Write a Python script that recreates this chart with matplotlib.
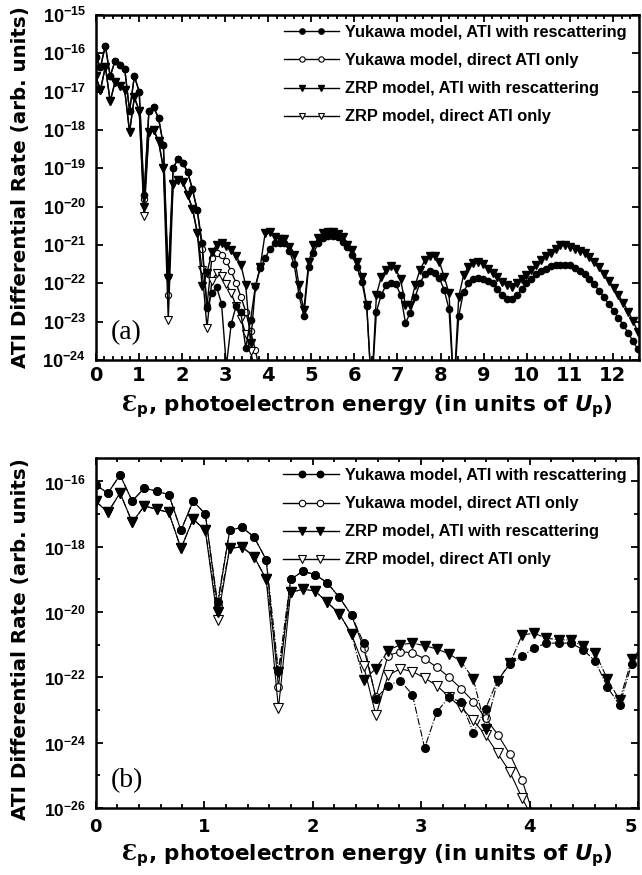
import numpy as np
import matplotlib
matplotlib.use("Agg")
import matplotlib.pyplot as plt
from matplotlib.lines import Line2D
from matplotlib.legend_handler import HandlerLine2D
from matplotlib.transforms import ScaledTranslation
from matplotlib.ticker import MultipleLocator, FixedLocator, FuncFormatter, NullLocator, NullFormatter

# polices : sans gras partout, Ɛ en serif
plt.rcParams["font.family"] = ["Liberation Sans", "DejaVu Sans"]
plt.rcParams["font.weight"] = "bold"
plt.rcParams["mathtext.fontset"] = "custom"
plt.rcParams["mathtext.rm"] = "Liberation Sans:bold"
plt.rcParams["mathtext.bf"] = "Liberation Sans:bold"
plt.rcParams["mathtext.it"] = "DejaVu Sans:bold:italic"
plt.rcParams["mathtext.sf"] = "DejaVu Sans:bold"
plt.rcParams["mathtext.cal"] = "DejaVu Serif"

# energy grid (units of Up), one point per photon
step = 0.1123
energy = np.arange(113) * step

# log10 of the differential rate
yuk_resc = [
    -16.10, -16.36, -15.80, -16.60, -16.20, -16.30, -16.40, -17.50, -16.60, -17.00,
    -19.70, -17.50, -17.40, -17.70, -18.40, -21.80, -19.00, -18.75, -18.85, -19.10,
    -19.55, -20.10, -20.95, -22.65, -22.25, -22.10, -22.53, -24.16, -23.06, -22.60,
    -22.76, -23.69, -22.96, -22.07, -21.60, -21.35, -21.10, -20.95, -20.95, -20.95,
    -21.15, -21.50, -22.30, -22.85, -21.58, -21.20, -20.96, -20.83, -20.77, -20.77,
    -20.80, -20.91, -21.05, -21.26, -21.58, -21.96, -22.60, -24.80, -22.74, -22.30,
    -22.05, -21.99, -22.02, -22.30, -23.03, -22.77, -22.35, -21.99, -21.77, -21.68,
    -21.72, -21.87, -22.17, -22.68, -24.80, -22.85, -22.22, -22.00, -21.88, -21.85,
    -21.88, -21.94, -22.00, -22.16, -22.31, -22.42, -22.40, -22.31, -22.16, -22.00,
    -21.88, -21.76, -21.68, -21.62, -21.55, -21.52, -21.51, -21.51, -21.53, -21.59,
    -21.67, -21.76, -21.89, -22.03, -22.19, -22.37, -22.54, -22.72, -22.90, -23.09,
    -23.29, -23.51, -23.72]

yuk_direct = [
    -16.10, -16.36, -15.80, -16.60, -16.20, -16.30, -16.40, -17.50, -16.60, -17.00,
    -19.80, -17.50, -17.40, -17.70, -18.40, -22.30, -19.00, -18.75, -18.85, -19.10,
    -19.55, -20.10, -21.10, -22.60, -21.33, -21.21, -21.25, -21.43, -21.69, -21.99,
    -22.35, -22.74, -23.25, -23.75, -24.36, -25.15, -26.30]

zrp_resc = [
    -16.60, -16.95, -16.35, -17.25, -16.75, -16.85, -16.95, -18.05, -17.15, -17.50,
    -20.00, -18.05, -18.00, -18.30, -19.00, -21.85, -19.40, -19.30, -19.35, -19.70,
    -20.05, -20.68, -22.08, -21.73, -21.18, -21.00, -20.95, -21.03, -21.13, -21.28,
    -21.52, -22.05, -23.57, -22.10, -21.57, -20.70, -20.65, -20.80, -20.85, -20.85,
    -21.05, -21.25, -22.05, -22.70, -21.45, -21.00, -20.83, -20.70, -20.65, -20.65,
    -20.71, -20.78, -21.00, -21.13, -21.44, -21.83, -22.57, -24.80, -22.30, -21.83,
    -21.65, -21.55, -21.63, -21.90, -22.57, -22.57, -22.05, -21.65, -21.40, -21.29,
    -21.29, -21.44, -21.83, -22.26, -24.80, -22.35, -21.79, -21.57, -21.47, -21.44,
    -21.50, -21.62, -21.73, -21.83, -21.96, -22.05, -22.09, -22.00, -21.90, -21.79,
    -21.66, -21.53, -21.40, -21.29, -21.20, -21.10, -21.01, -21.00, -21.05, -21.10,
    -21.15, -21.20, -21.31, -21.45, -21.58, -21.76, -21.93, -22.11, -22.31, -22.51,
    -22.74, -22.98, -23.26]

zrp_direct = [
    -16.60, -16.95, -16.35, -17.25, -16.75, -16.85, -16.95, -18.05, -17.15, -17.50,
    -20.25, -18.05, -18.00, -18.30, -19.00, -22.95, -19.40, -19.30, -19.35, -19.70,
    -20.05, -20.68, -21.66, -23.16, -21.93, -21.74, -21.82, -22.02, -22.25, -22.60,
    -22.92, -23.32, -23.77, -24.33, -24.90, -25.70, -26.40]

labels = ["Yukawa model, ATI with rescattering",
          "Yukawa model, direct ATI only",
          "ZRP model, ATI with rescattering",
          "ZRP model, direct ATI only"]

xlabel = r"$\mathcal{Ɛ}_\mathsf{p}$, photoelectron energy (in units of $\mathit{U}_\mathsf{p}$)"
ylabel = "ATI Differential Rate (arb. units)"

decade_fmt = FuncFormatter(lambda v, p: r"$\mathbf{10^{%d}}$" % int(round(np.log10(v))))
label_font = {"family": "DejaVu Sans", "weight": "bold"}


def draw_curves(ax, resc_ls, lw, ms):
    ax.plot(energy[:len(yuk_direct)], 10.0 ** np.array(yuk_direct), color="black", ls="-", lw=lw,
            marker="o", ms=ms, mfc="white", mec="black", mew=0.8, label=labels[1], zorder=2)
    ax.plot(energy[:len(zrp_direct)], 10.0 ** np.array(zrp_direct), color="black", ls="-", lw=lw,
            marker="v", ms=ms + 1, mfc="white", mec="black", mew=0.8, label=labels[3], zorder=2)
    ax.plot(energy, 10.0 ** np.array(yuk_resc), color="black", ls=resc_ls, lw=lw,
            marker="o", ms=ms, mfc="black", mec="black", label=labels[0], zorder=3)
    ax.plot(energy, 10.0 ** np.array(zrp_resc), color="black", ls=resc_ls, lw=lw,
            marker="v", ms=ms + 1, mfc="black", mec="black", label=labels[2], zorder=3)
    ax.set_yscale("log")
    # légende dans l'ordre du papier, trait qui dépasse des deux symboles
    h, l = ax.get_legend_handles_labels()
    order = [l.index(s) for s in labels]
    leg = ax.legend([h[k] for k in order], labels, loc="upper right", frameon=False, numpoints=4,
                    handlelength=3.4, handletextpad=0.35, labelspacing=0.8,
                    borderaxespad=0.0, borderpad=0.3, bbox_to_anchor=(0.987, 0.985), markerscale=0.85,
                    handler_map={Line2D: HandlerLine2D(marker_pad=0.0)},
                    prop={"family": "Liberation Sans", "weight": "bold", "size": 11.8})
    for hl in leg.legend_handles:
        hl.set_linestyle("-")
        hl.set_linewidth(1.0)
        hl.set_markevery([1, 2])
    for s in ax.spines.values():
        s.set_linewidth(1.8)
    ax.tick_params(which="both", direction="in", top=True, right=True, width=1.3)
    ax.tick_params(which="major", length=5)
    ax.tick_params(which="minor", length=3)


fig = plt.figure(figsize=(6.42, 8.75), dpi=100)

# panneau (a)
ax_a = fig.add_axes([0.149, 0.5886, 0.846, 0.3943])
draw_curves(ax_a, "-", 1.0, 4.5)
ax_a.set_xlim(0, 12.6)
ax_a.set_ylim(1e-24, 1e-15)
ax_a.set_xticks(range(0, 13))
ax_a.xaxis.set_minor_locator(MultipleLocator(0.2))
ax_a.yaxis.set_major_locator(FixedLocator([10.0 ** k for k in range(-24, -14)]))
ax_a.yaxis.set_minor_locator(NullLocator())
ax_a.yaxis.set_major_formatter(decade_fmt)
ax_a.tick_params(axis="x", labelsize=14, pad=4)
ax_a.tick_params(axis="y", labelsize=13, pad=7)
for t in ax_a.get_xticklabels():
    t.set_fontfamily("DejaVu Sans")
ax_a.set_xlabel(xlabel, fontsize=15.5, labelpad=6, **label_font)
ax_a.set_ylabel(ylabel, fontsize=14.3, **label_font)
ax_a.yaxis.set_label_coords(-0.121, 0.5)
ax_a.text(0.027, 0.078, "(a)", transform=ax_a.transAxes, family="Liberation Serif",
          fontweight="normal", fontsize=20, va="center", ha="left")

# panneau (b)
ax_b = fig.add_axes([0.149, 0.0766, 0.845, 0.40])
draw_curves(ax_b, "-.", 0.8, 5.5)
ax_b.set_xlim(0, 5)
ax_b.set_ylim(1e-26, 10.0 ** -15.28)
ax_b.set_xticks(range(0, 6))
ax_b.xaxis.set_minor_locator(MultipleLocator(0.2))
ax_b.yaxis.set_major_locator(FixedLocator([10.0 ** k for k in range(-26, -15, 2)]))
ax_b.yaxis.set_minor_locator(FixedLocator([10.0 ** k for k in range(-25, -15, 2)]))
ax_b.yaxis.set_major_formatter(decade_fmt)
ax_b.yaxis.set_minor_formatter(NullFormatter())
ax_b.tick_params(axis="x", labelsize=13, pad=7)
ax_b.tick_params(axis="y", labelsize=12.5, pad=7)
for t in ax_b.get_xticklabels():
    t.set_fontfamily("DejaVu Sans")
# le "5" touche le bord droit : petit décalage vers la gauche
last = ax_b.xaxis.get_major_ticks()[-1].label1
last.set_transform(last.get_transform() + ScaledTranslation(-5 / 72, 0, fig.dpi_scale_trans))
ax_b.set_xlabel(xlabel, fontsize=15.5, labelpad=5, **label_font)
ax_b.set_ylabel(ylabel, fontsize=14.3, **label_font)
ax_b.yaxis.set_label_coords(-0.121, 0.483)
ax_b.text(0.027, 0.077, "(b)", transform=ax_b.transAxes, family="Liberation Serif",
          fontweight="normal", fontsize=20, va="center", ha="left")

fig.savefig("out.png", dpi=100)
